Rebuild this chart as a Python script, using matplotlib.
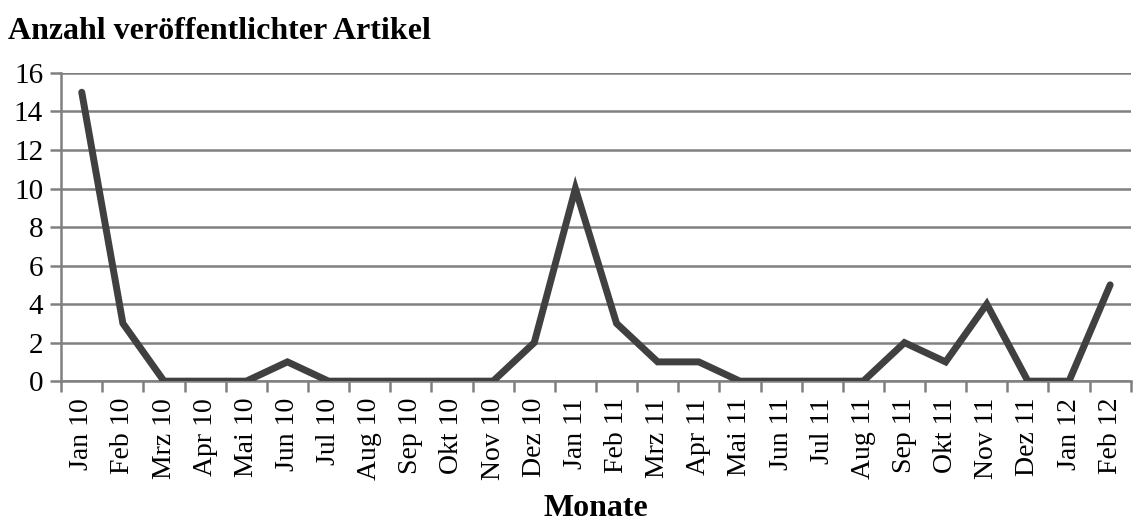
import numpy as np
import matplotlib.pyplot as plt

# Monate und Anzahl der Artikel
monate = ['Jan 10', 'Feb 10', 'Mrz 10', 'Apr 10', 'Mai 10', 'Jun 10', 'Jul 10',
          'Aug 10', 'Sep 10', 'Okt 10', 'Nov 10', 'Dez 10', 'Jan 11', 'Feb 11',
          'Mrz 11', 'Apr 11', 'Mai 11', 'Jun 11', 'Jul 11', 'Aug 11', 'Sep 11',
          'Okt 11', 'Nov 11', 'Dez 11', 'Jan 12', 'Feb 12']
artikel = [15, 3, 0, 0, 0, 1, 0, 0, 0, 0, 0, 2, 10, 3, 1, 1, 0, 0, 0, 0, 2, 1, 4, 0, 0, 5]

plt.rcParams['font.family'] = ['Liberation Serif', 'DejaVu Serif']
grid_col = '#808080'

fig = plt.figure(figsize=(11.33, 5.25), dpi=100)
ax = fig.add_axes([0.054, 0.274, 0.944, 0.587])

x = np.arange(len(monate))
ax.plot(x, artikel, color='#404040', linewidth=5, solid_capstyle='round',
        solid_joinstyle='miter', zorder=3)

ax.set_xlim(-0.5, len(monate) - 0.5)
ax.set_ylim(0, 16)
ax.set_yticks(np.arange(0, 17, 2))
ax.yaxis.grid(True, color=grid_col, linewidth=1.8)
ax.set_axisbelow(True)

ax.set_xticks(x)
ax.set_xticklabels(monate, rotation=90, fontsize=20)
ax.set_xticks(np.arange(-0.5, len(monate), 1), minor=True)
ax.tick_params(axis='x', which='major', length=0, pad=12)
ax.tick_params(axis='x', which='minor', length=8, width=1.8, color=grid_col)
ax.tick_params(axis='y', length=8, width=1.8, color=grid_col, labelsize=21, pad=5)

for s in ['top', 'right']:
    ax.spines[s].set_visible(False)
for s in ['left', 'bottom']:
    ax.spines[s].set_color(grid_col)
    ax.spines[s].set_linewidth(1.8)

fig.text(0.007, 0.94, 'Anzahl veröffentlichter Artikel', fontsize=23,
         fontweight='bold', ha='left', va='center')
ax.set_xlabel('Monate', fontsize=23, fontweight='bold', labelpad=10)

fig.savefig('out.png', dpi=100)
